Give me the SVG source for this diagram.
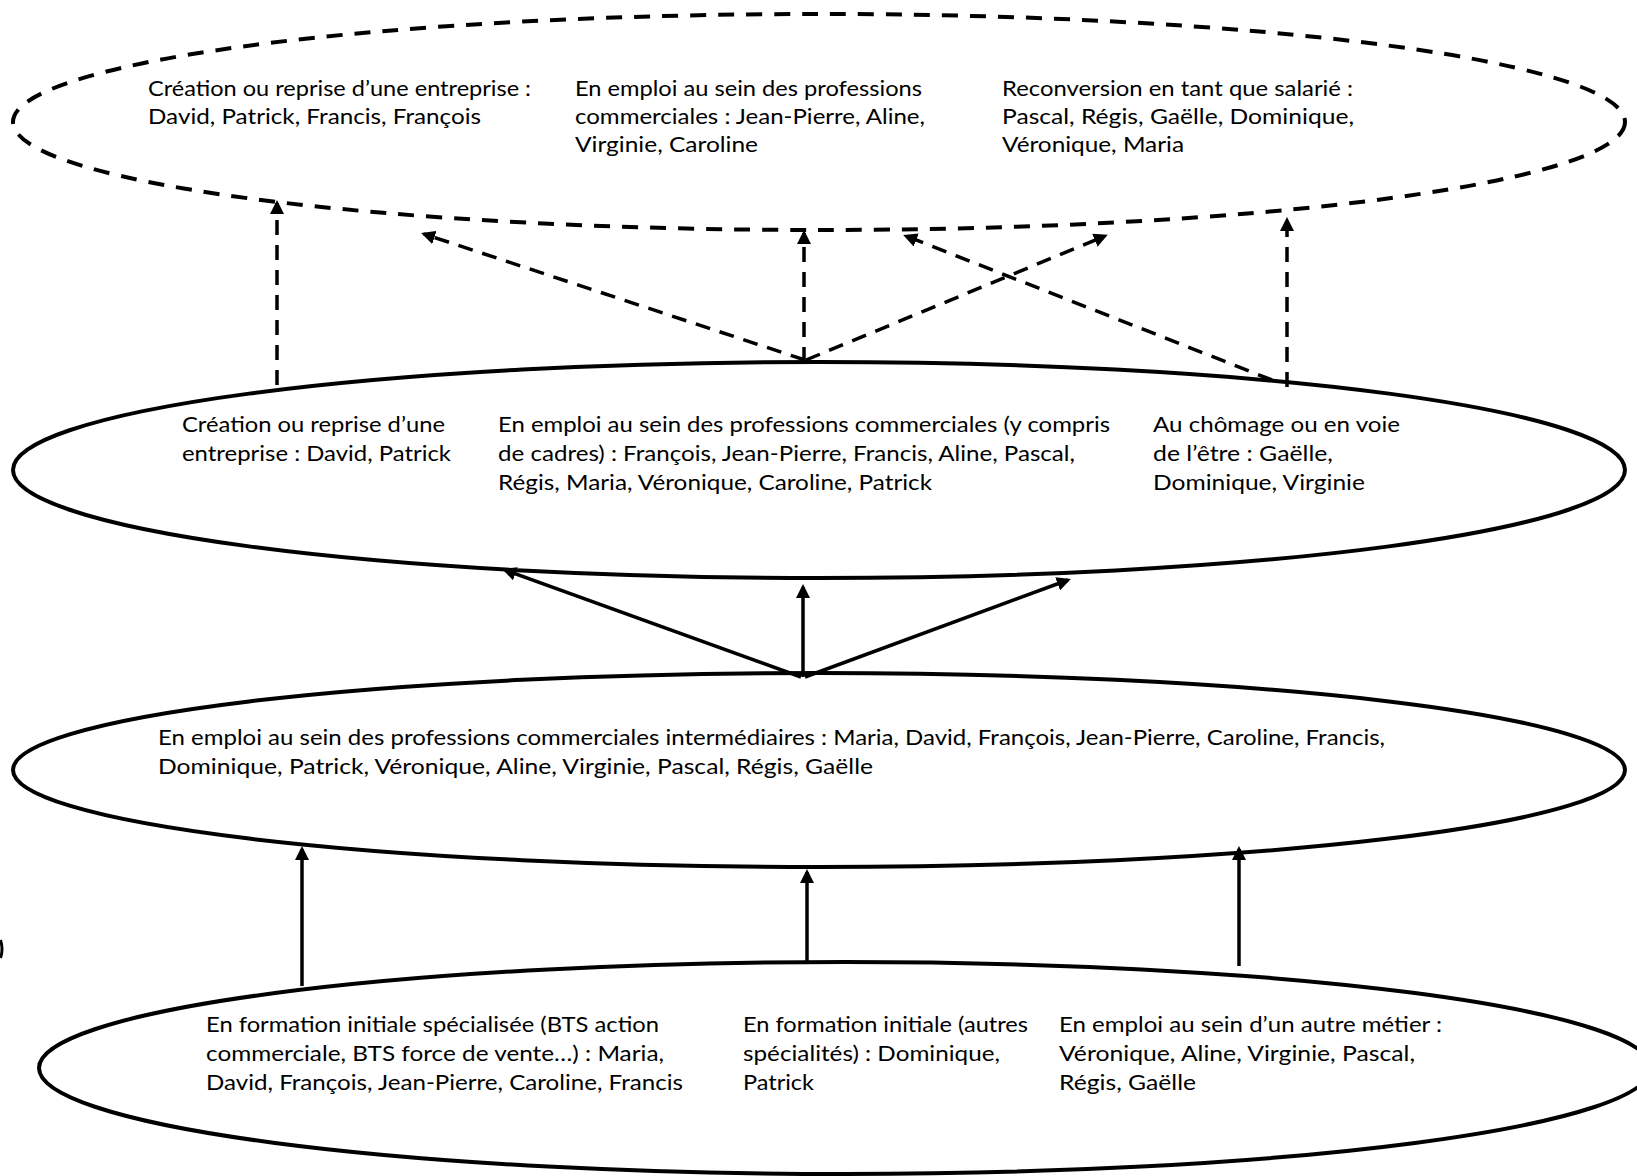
<svg xmlns="http://www.w3.org/2000/svg" width="1637" height="1176" viewBox="0 0 1637 1176">
<style>
  .node ellipse { fill: none; stroke: #000; stroke-width: 4; }
  .dashed { stroke-dasharray: 16 12; }
  text { font-family: Lato, "Open Sans", "Liberation Sans", sans-serif; font-size: 20.5px; fill: #000; }
  .conn line { stroke: #000; stroke-width: 3.5; fill: none; }
  .conn .d { stroke-dasharray: 15 10; }
</style>
<defs>
  <marker id="ah" viewBox="0 0 14 14" refX="11" refY="7" markerWidth="14" markerHeight="14" markerUnits="userSpaceOnUse" orient="auto">
    <path d="M0,0 L14,7 L0,14 z" fill="#000"/>
  </marker>
</defs>
<rect width="1637" height="1176" fill="#fff"/>

<g id="node-outcomes" class="node">
  <ellipse class="dashed" cx="819" cy="122" rx="806" ry="108"/>
  <text x="148" y="96" textLength="383" lengthAdjust="spacingAndGlyphs">Création ou reprise d’une entreprise :</text>
  <text x="148" y="124" textLength="333" lengthAdjust="spacingAndGlyphs">David, Patrick, Francis, François</text>
  <text x="575" y="96" textLength="347" lengthAdjust="spacingAndGlyphs">En emploi au sein des professions</text>
  <text x="575" y="124" textLength="350" lengthAdjust="spacingAndGlyphs">commerciales : Jean-Pierre, Aline,</text>
  <text x="575" y="152" textLength="183" lengthAdjust="spacingAndGlyphs">Virginie, Caroline</text>
  <text x="1002" y="96" textLength="351" lengthAdjust="spacingAndGlyphs">Reconversion en tant que salarié :</text>
  <text x="1002" y="124" textLength="352" lengthAdjust="spacingAndGlyphs">Pascal, Régis, Gaëlle, Dominique,</text>
  <text x="1002" y="152" textLength="182" lengthAdjust="spacingAndGlyphs">Véronique, Maria</text>
</g>

<g id="node-situation2" class="node">
  <ellipse cx="819" cy="470" rx="806" ry="108"/>
  <text x="182" y="432" textLength="263" lengthAdjust="spacingAndGlyphs">Création ou reprise d’une</text>
  <text x="182" y="461" textLength="269" lengthAdjust="spacingAndGlyphs">entreprise : David, Patrick</text>
  <text x="498" y="432" textLength="612" lengthAdjust="spacingAndGlyphs">En emploi au sein des professions commerciales (y compris</text>
  <text x="498" y="461" textLength="577" lengthAdjust="spacingAndGlyphs">de cadres) : François, Jean-Pierre, Francis, Aline, Pascal,</text>
  <text x="498" y="490" textLength="434" lengthAdjust="spacingAndGlyphs">Régis, Maria, Véronique, Caroline, Patrick</text>
  <text x="1153" y="432" textLength="247" lengthAdjust="spacingAndGlyphs">Au chômage ou en voie</text>
  <text x="1153" y="461" textLength="180" lengthAdjust="spacingAndGlyphs">de l’être : Gaëlle,</text>
  <text x="1153" y="490" textLength="212" lengthAdjust="spacingAndGlyphs">Dominique, Virginie</text>
</g>

<g id="node-intermediate" class="node">
  <ellipse cx="819" cy="770" rx="806" ry="97"/>
  <text x="158" y="745" textLength="1227" lengthAdjust="spacingAndGlyphs">En emploi au sein des professions commerciales intermédiaires : Maria, David, François, Jean-Pierre, Caroline, Francis,</text>
  <text x="158" y="774" textLength="715" lengthAdjust="spacingAndGlyphs">Dominique, Patrick, Véronique, Aline, Virginie, Pascal, Régis, Gaëlle</text>
</g>

<g id="node-origin" class="node">
  <ellipse cx="845" cy="1068" rx="806" ry="106"/>
  <text x="206" y="1032" textLength="453" lengthAdjust="spacingAndGlyphs">En formation initiale spécialisée (BTS action</text>
  <text x="206" y="1061" textLength="458" lengthAdjust="spacingAndGlyphs">commerciale, BTS force de vente…) : Maria,</text>
  <text x="206" y="1090" textLength="477" lengthAdjust="spacingAndGlyphs">David, François, Jean-Pierre, Caroline, Francis</text>
  <text x="743" y="1032" textLength="285" lengthAdjust="spacingAndGlyphs">En formation initiale (autres</text>
  <text x="743" y="1061" textLength="257" lengthAdjust="spacingAndGlyphs">spécialités) : Dominique,</text>
  <text x="743" y="1090" textLength="71" lengthAdjust="spacingAndGlyphs">Patrick</text>
  <text x="1059" y="1032" textLength="383" lengthAdjust="spacingAndGlyphs">En emploi au sein d’un autre métier :</text>
  <text x="1059" y="1061" textLength="356" lengthAdjust="spacingAndGlyphs">Véronique, Aline, Virginie, Pascal,</text>
  <text x="1059" y="1090" textLength="137" lengthAdjust="spacingAndGlyphs">Régis, Gaëlle</text>
</g>

<g id="connectors" class="conn">
  <line class="d" x1="277" y1="385" x2="277" y2="203" marker-end="url(#ah)"/>
  <line class="d" x1="805" y1="360" x2="424" y2="234" marker-end="url(#ah)"/>
  <line class="d" x1="804" y1="362" x2="804" y2="233" marker-end="url(#ah)"/>
  <line class="d" x1="806" y1="360" x2="1105" y2="236" marker-end="url(#ah)"/>
  <line class="d" x1="1272" y1="380" x2="906" y2="236" marker-end="url(#ah)"/>
  <line class="d" x1="1287" y1="387" x2="1287" y2="220" marker-end="url(#ah)"/>

  <line x1="801" y1="677" x2="505" y2="570" marker-end="url(#ah)"/>
  <line x1="803" y1="677" x2="803" y2="587" marker-end="url(#ah)"/>
  <line x1="805" y1="677" x2="1068" y2="580" marker-end="url(#ah)"/>

  <line x1="302" y1="986" x2="302" y2="849" marker-end="url(#ah)"/>
  <line x1="807" y1="963" x2="807" y2="872" marker-end="url(#ah)"/>
  <line x1="1239" y1="966" x2="1239" y2="849" marker-end="url(#ah)"/>
</g>

<path d="M0.5,940 Q3.5,949 0.5,958" fill="none" stroke="#000" stroke-width="3"/>
</svg>
